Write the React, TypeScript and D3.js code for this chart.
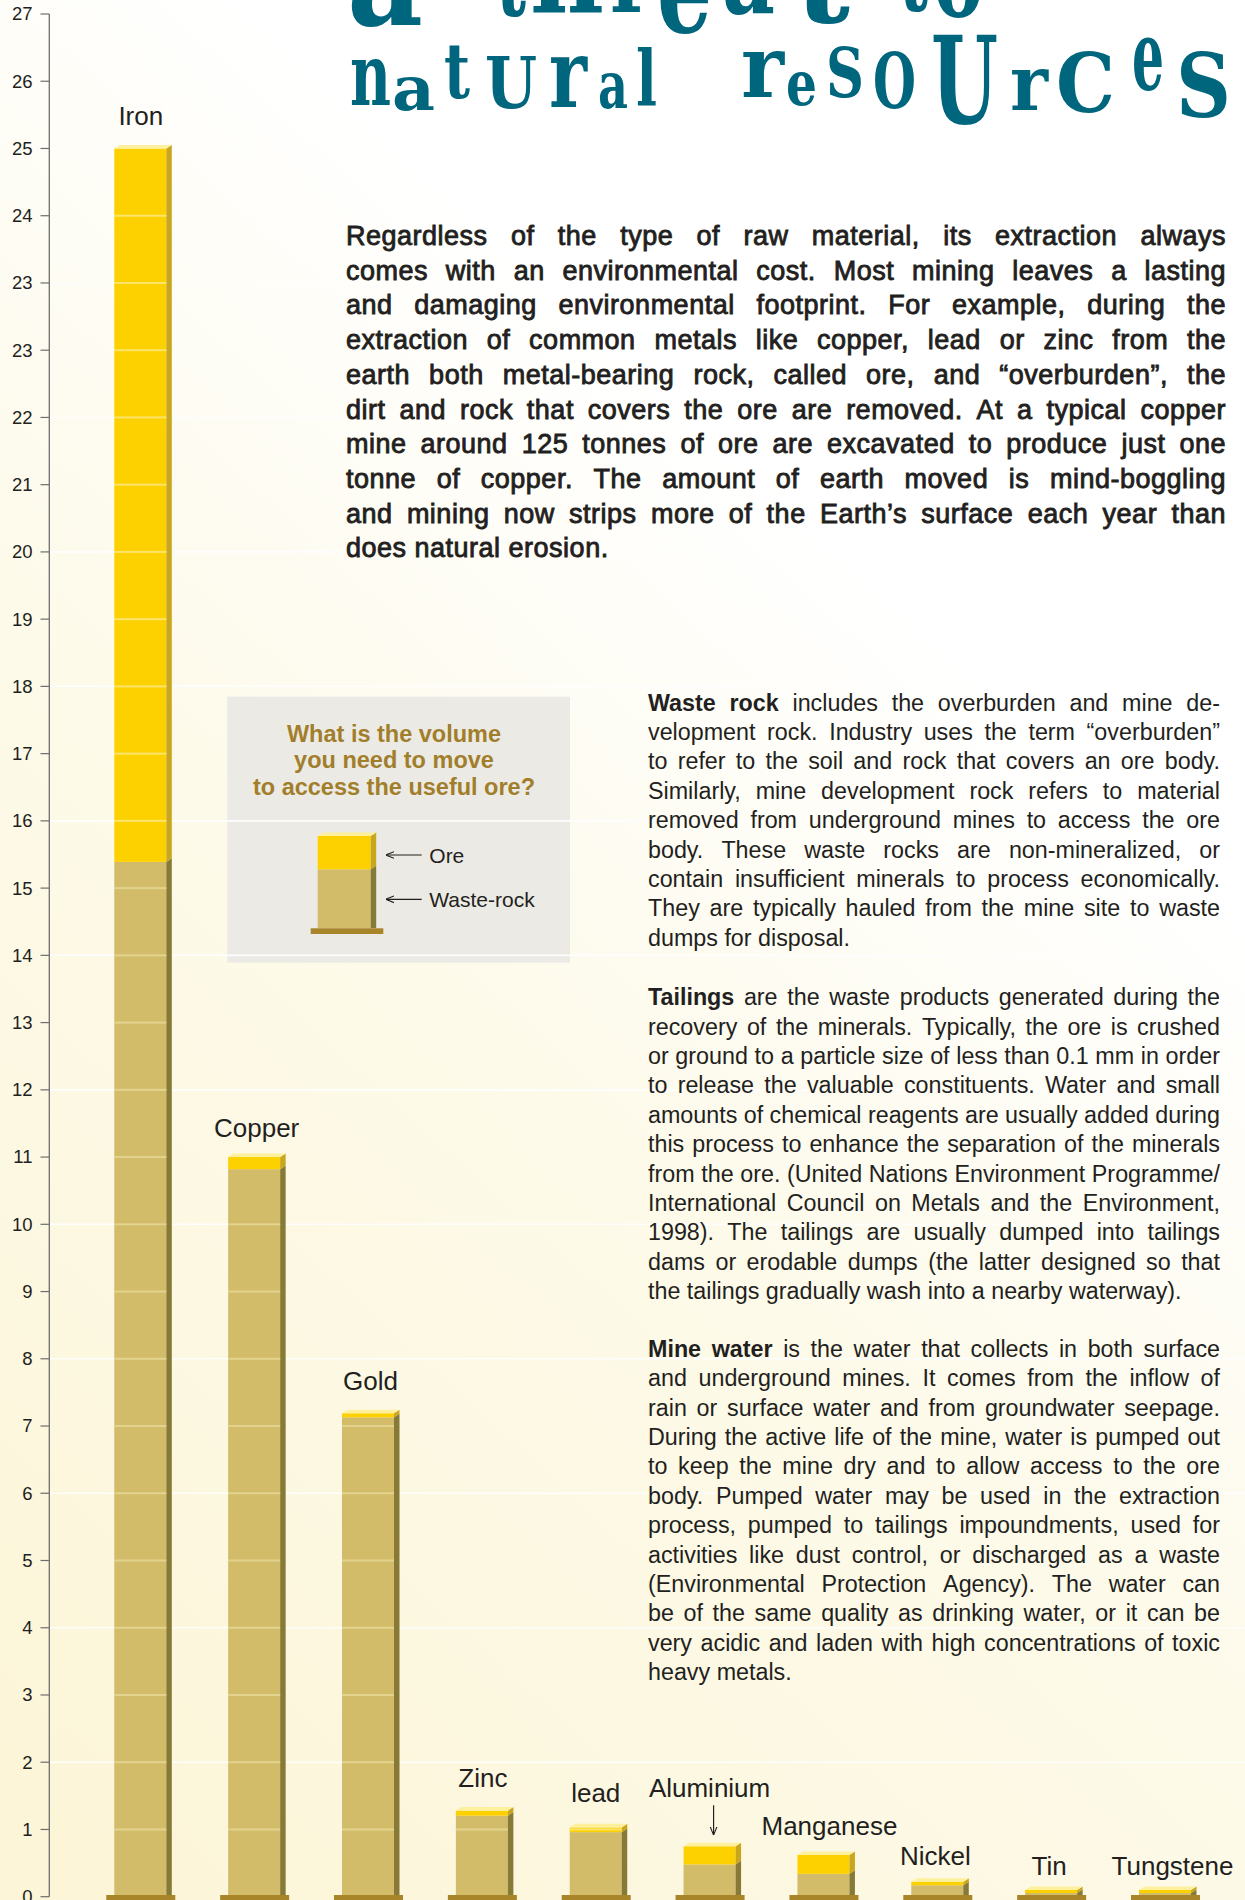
import React from 'react';
import * as d3 from 'd3';

const W = 1245;
const H = 1900;

// ---------- data ----------
const metals = ["Iron", "Copper", "Gold", "Zinc", "lead", "Aluminium", "Manganese", "Nickel", "Tin", "Tungstene"];
const wasteRock = [15.39, 10.82, 7.13, 1.205, 0.96, 0.48, 0.34, 0.17, 0.055, 0.055];
const ore = [10.61, 0.18, 0.06, 0.075, 0.07, 0.27, 0.28, 0.05, 0.045, 0.045];
const yTickLabels = ["0", "1", "2", "3", "4", "5", "6", "7", "8", "9", "10", "11", "12", "13", "14", "15", "16", "17", "18", "19", "20", "21", "22", "23", "23", "24", "25", "26", "27"];

// ---------- texts ----------
const introLines = [
  "Regardless of the type of raw material, its extraction always",
  "comes with an environmental cost. Most mining leaves a lasting",
  "and damaging environmental footprint. For example, during the",
  "extraction of common metals like copper, lead or zinc from the",
  "earth both metal-bearing rock, called ore, and “overburden”, the",
  "dirt and rock that covers the ore are removed. At a typical copper",
  "mine around 125 tonnes of ore are excavated to produce just one",
  "tonne of copper. The amount of earth moved is mind-boggling",
  "and mining now strips more of the Earth’s surface each year than",
  "does natural erosion.",
];
const wasteRockLines = [
  "includes the overburden and mine de-",
  "velopment rock. Industry uses the term “overburden”",
  "to refer to the soil and rock that covers an ore body.",
  "Similarly, mine development rock refers to material",
  "removed from underground mines to access the ore",
  "body. These waste rocks are non-mineralized, or",
  "contain insufficient minerals to process economically.",
  "They are typically hauled from the mine site to waste",
  "dumps for disposal.",
];
const tailingsLines = [
  "are the waste products generated during the",
  "recovery of the minerals. Typically, the ore is crushed",
  "or ground to a particle size of less than 0.1 mm in order",
  "to release the valuable constituents. Water and small",
  "amounts of chemical reagents are usually added during",
  "this process to enhance the separation of the minerals",
  "from the ore. (United Nations Environment Programme/",
  "International Council on Metals and the Environment,",
  "1998). The tailings are usually dumped into tailings",
  "dams or erodable dumps (the latter designed so that",
  "the tailings gradually wash into a nearby waterway).",
];
const mineWaterLines = [
  "is the water that collects in both surface",
  "and underground mines. It comes from the inflow of",
  "rain or surface water and from groundwater seepage.",
  "During the active life of the mine, water is pumped out",
  "to keep the mine dry and to allow access to the ore",
  "body. Pumped water may be used in the extraction",
  "process, pumped to tailings impoundments, used for",
  "activities like dust control, or discharged as a waste",
  "(Environmental Protection Agency). The water can",
  "be of the same quality as drinking water, or it can be",
  "very acidic and laden with high concentrations of toxic",
  "heavy metals.",
];
const questionLines = ["What is the volume", "you need to move", "to access the useful ore?"];

// ---------- layout (not data) ----------
const labelLift = [23, 20.5, 23, 23.5, 25, 49.5, 20, 17, 15, 15];
const labelShift = [0.5, 2.5, 2.5, 1, 0, 0, 6, -2, -2, 7.5];

const titleGlyphs = [
  { c: "a", x0: 347, x1: 423, y0: -45, y1: 25 },
  { c: "t", x0: 496, x1: 526, y0: -60, y1: 15 },
  { c: "h", x0: 530, x1: 604, y0: -70, y1: 13 },
  { c: "r", x0: 610, x1: 652, y0: -40, y1: 12 },
  { c: "e", x0: 657, x1: 712, y0: -35, y1: 32 },
  { c: "a", x0: 722, x1: 775, y0: -45, y1: 13 },
  { c: "t", x0: 795, x1: 850, y0: -60, y1: 22 },
  { c: "t", x0: 899, x1: 928, y0: -60, y1: 10 },
  { c: "o", x0: 934, x1: 983, y0: -40, y1: 17 },
  { c: "n", x0: 350, x1: 391, y0: 60, y1: 105 },
  { c: "a", x0: 392, x1: 435, y0: 77, y1: 110 },
  { c: "t", x0: 444, x1: 470, y0: 47, y1: 98 },
  { c: "U", x0: 485, x1: 537, y0: 55, y1: 108 },
  { c: "r", x0: 549, x1: 587, y0: 57, y1: 107 },
  { c: "a", x0: 598, x1: 628, y0: 73, y1: 108 },
  { c: "l", x0: 636, x1: 657, y0: 47, y1: 105 },
  { c: "r", x0: 741, x1: 784, y0: 52, y1: 97 },
  { c: "e", x0: 786, x1: 817, y0: 72, y1: 105 },
  { c: "S", x0: 826, x1: 864, y0: 45, y1: 97 },
  { c: "O", x0: 873, x1: 916, y0: 50, y1: 108 },
  { c: "U", x0: 931, x1: 998, y0: 33, y1: 123 },
  { c: "r", x0: 1010, x1: 1048, y0: 70, y1: 110 },
  { c: "C", x0: 1056, x1: 1115, y0: 50, y1: 112 },
  { c: "e", x0: 1132, x1: 1164, y0: 37, y1: 90 },
  { c: "S", x0: 1176, x1: 1231, y0: 50, y1: 117 },
];
const glyphRatio: Record<string, number> = { n: 0.52, a: 0.54, r: 0.52, e: 0.54, o: 0.54, t: 0.66, l: 0.76, h: 0.76, U: 0.74, S: 0.76, O: 0.76, C: 0.76 };

const COL = {
  ore: "#FDD000",
  oreSide: "#C8A61E",
  oreLine: "#FDE46A",
  waste: "#D2BB69",
  wasteSide: "#867A36",
  wasteLine: "#E2D38E",
  top: "#FEF09C",
  base: "#A9852A",
  text: "#231F20",
  axis: "#6E6E6E",
  title: "#00667E",
  question: "#A17E2B",
  box: "#ECEAE4",
};

const FONT = '"Liberation Sans", Arial, Helvetica, sans-serif';

let ctx: CanvasRenderingContext2D | null = null;
function measure(s: string, size: number, bold: boolean, ls: number) {
  if (!ctx) ctx = document.createElement("canvas").getContext("2d");
  if (!ctx) return s.length * size * 0.5;
  ctx.font = `${bold ? "bold " : ""}${size}px "Liberation Sans", Arial, sans-serif`;
  return ctx.measureText(s).width + ls * s.length;
}

type Word = { w: string; bold: boolean };

function JLine({ words, x, y, width, justify, size, ls, stroke }: { words: Word[]; x: number; y: number; width: number; justify: boolean; size: number; ls: number; stroke: number }) {
  const widths = words.map((wd) => measure(wd.w, size, wd.bold, ls));
  const sum = widths.reduce((a, b) => a + b, 0);
  const gap = justify && words.length > 1 ? (width - sum) / (words.length - 1) : measure(" ", size, false, 0) + ls;
  let cx = x;
  const xs = widths.map((w) => {
    const p = cx;
    cx += w + gap;
    return p;
  });
  return (
    <text
      y={y}
      fontSize={size}
      fontFamily={FONT}
      fill={COL.text}
      stroke={stroke > 0 ? COL.text : "none"}
      strokeWidth={stroke}
      style={{ letterSpacing: `${ls}px` }}
    >
      {words.map((wd, i) => (
        <tspan key={i} x={xs[i]} fontWeight={wd.bold ? "bold" : "normal"}>
          {wd.w}
        </tspan>
      ))}
    </text>
  );
}

function toWords(line: string, bold: boolean): Word[] {
  return line.split(" ").filter((s) => s.length).map((w) => ({ w, bold }));
}

function Paragraph({ lead, lines, x, y0, width, lh, size, ls = 0, stroke = 0 }: { lead?: string; lines: string[]; x: number; y0: number; width: number; lh: number; size: number; ls?: number; stroke?: number }) {
  return (
    <g>
      {lines.map((ln, i) => {
        let words = toWords(ln, false);
        if (i === 0 && lead) words = [...toWords(lead, true), ...words];
        return <JLine key={i} words={words} x={x} y={y0 + i * lh} width={width} justify={i < lines.length - 1} size={size} ls={ls} stroke={stroke} />;
      })}
    </g>
  );
}

function Bar3D({ x, w, yTop, yMid, yBot, dx = 5.5, dy = 3.6 }: { x: number; w: number; yTop: number; yMid: number; yBot: number; dx?: number; dy?: number }) {
  return (
    <g>
      <rect x={x} y={yMid} width={w} height={Math.max(0, yBot - yMid)} fill={COL.waste} />
      <rect x={x} y={yTop} width={w} height={Math.max(0, yMid - yTop)} fill={COL.ore} />
      <polygon points={`${x + w},${yMid} ${x + w + dx},${yMid - dy} ${x + w + dx},${yBot} ${x + w},${yBot}`} fill={COL.wasteSide} />
      <polygon points={`${x + w},${yTop} ${x + w + dx},${yTop - dy} ${x + w + dx},${yMid - dy} ${x + w},${yMid}`} fill={COL.oreSide} />
      <polygon points={`${x},${yTop} ${x + dx},${yTop - dy} ${x + w + dx},${yTop - dy} ${x + w},${yTop}`} fill={COL.top} />
    </g>
  );
}

export default function App() {
  const y = d3.scaleLinear().domain([0, yTickLabels.length - 1]).range([1896.7, 14]);
  const x = d3.scaleBand<string>().domain(metals).range([114.3, 1191]).paddingInner(0.5433).paddingOuter(0).align(0);
  const bw = x.bandwidth();
  const axisX = 49.3;
  const baseTop = 1895;

  const gridVals = d3.range(2, 27, 2);

  return (
    <div style={{ position: "absolute", left: 0, top: 0, width: W, height: H }}>
      <svg width={W} height={H} viewBox={`0 0 ${W} ${H}`} style={{ display: "block" }}>
        <defs>
          <linearGradient id="bg" x1="0.7" y1="0" x2="0.1" y2="1">
            <stop offset="0" stopColor="#FFFFFF" />
            <stop offset="0.22" stopColor="#FFFFFF" />
            <stop offset="0.55" stopColor="#FDFAE9" />
            <stop offset="1" stopColor="#FCF5D8" />
          </linearGradient>
          <marker id="ah" viewBox="0 0 10 10" refX="9" refY="5" markerWidth="7" markerHeight="7" orient="auto">
            <path d="M0,1 L10,5 L0,9" fill="none" stroke={COL.text} strokeWidth="1.3" />
          </marker>
        </defs>
        <rect x={0} y={0} width={W} height={H} fill="url(#bg)" />

        {/* inset box */}
        <rect x={227.3} y={696.7} width={342.7} height={266} fill={COL.box} />

        {/* white gridlines */}
        {gridVals.map((v) => (
          <line key={v} x1={axisX} x2={W} y1={y(v)} y2={y(v)} stroke="#FFFFFF" strokeWidth={1.6} opacity={0.95} />
        ))}

        {/* title */}
        <g fill={COL.title} fontFamily='"DejaVu Serif", "Liberation Serif", serif' fontWeight="bold">
          {titleGlyphs.map((g, i) => {
            const fs = (g.y1 - g.y0) / (glyphRatio[g.c] || 0.6);
            return (
              <text key={i} x={g.x0} y={g.y1} fontSize={fs} textLength={g.x1 - g.x0} lengthAdjust="spacingAndGlyphs">
                {g.c}
              </text>
            );
          })}
        </g>

        {/* intro paragraph */}
        <Paragraph lines={introLines} x={346} y0={245} width={880} lh={34.7} size={27} ls={0.5} stroke={0.85} />

        {/* right column */}
        <Paragraph lead="Waste rock" lines={wasteRockLines} x={648} y0={710.6} width={572} lh={29.4} size={23.3} />
        <Paragraph lead="Tailings" lines={tailingsLines} x={648} y0={1005.2} width={572} lh={29.4} size={23.3} />
        <Paragraph lead="Mine water" lines={mineWaterLines} x={648} y0={1356.7} width={572} lh={29.4} size={23.3} />

        {/* inset content */}
        <g fontFamily={FONT} fontWeight="bold" fontSize={23.5} fill={COL.question} textAnchor="middle">
          {questionLines.map((q, i) => (
            <text key={i} x={394} y={741.7 + i * 26.7}>
              {q}
            </text>
          ))}
        </g>
        <Bar3D x={317.7} w={53} yTop={836} yMid={869.3} yBot={928.3} />
        <rect x={310.7} y={928.3} width={72.6} height={5.7} fill={COL.base} />
        <g stroke={COL.text} strokeWidth={1.2} fill="none">
          <line x1={421.7} x2={386.5} y1={855} y2={855} markerEnd="url(#ah)" />
          <line x1={421.7} x2={386.5} y1={899.3} y2={899.3} markerEnd="url(#ah)" />
        </g>
        <g fontFamily={FONT} fontSize={21} fill={COL.text}>
          <text x={429.3} y={862.7}>Ore</text>
          <text x={429.3} y={906.7}>Waste-rock</text>
        </g>

        {/* y axis */}
        <line x1={axisX} x2={axisX} y1={y(yTickLabels.length - 1)} y2={y(0)} stroke={COL.axis} strokeWidth={1.3} />
        {yTickLabels.map((lab, i) => (
          <g key={i}>
            <line x1={40.5} x2={axisX} y1={y(i)} y2={y(i)} stroke={COL.axis} strokeWidth={1.2} />
            <text x={32.5} y={y(i) + 6.4} textAnchor="end" fontFamily={FONT} fontSize={18.5} fill={COL.text}>
              {lab}
            </text>
          </g>
        ))}

        {/* bars */}
        {metals.map((m, i) => {
          const bx = x(m) as number;
          const total = wasteRock[i] + ore[i];
          const yTop = y(total);
          const yMid = y(wasteRock[i]);
          const yBot = y(0);
          const lines = d3.range(1, Math.ceil(total)).filter((k) => y(k) > yTop + 1.5);
          return (
            <g key={m}>
              <Bar3D x={bx} w={bw} yTop={yTop} yMid={yMid} yBot={yBot} />
              {lines.map((k) => (
                <rect key={k} x={bx} y={y(k) - 1} width={bw} height={2} fill={k < wasteRock[i] ? COL.wasteLine : COL.oreLine} />
              ))}
              <rect x={bx - 8} y={baseTop} width={bw + 17} height={10} fill={COL.base} />
              <text x={bx + bw / 2 + labelShift[i]} y={yTop - labelLift[i]} textAnchor="middle" fontFamily={FONT} fontSize={26} fill={COL.text}>
                {m}
              </text>
              {m === "Aluminium" && (
                <line x1={bx + bw / 2 + 4} x2={bx + bw / 2 + 4} y1={yTop - 41} y2={yTop - 12} stroke={COL.text} strokeWidth={1.2} markerEnd="url(#ah)" />
              )}
            </g>
          );
        })}
      </svg>
    </div>
  );
}
